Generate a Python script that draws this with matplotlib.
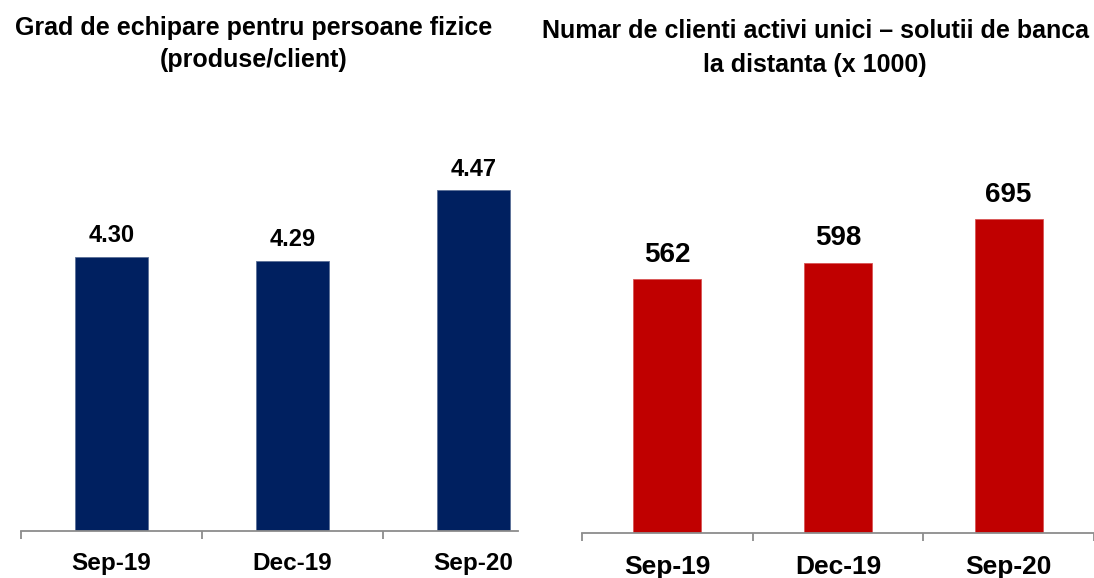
import matplotlib.pyplot as plt

W, H = 1094, 578

periods = ["Sep-19", "Dec-19", "Sep-20"]
grad_echipare = [4.30, 4.29, 4.47]
clienti_activi = [562, 598, 695]
grad_labels = ["4.30", "4.29", "4.47"]
clienti_labels = ["562", "598", "695"]

plt.rcParams['font.family'] = ['Liberation Sans', 'DejaVu Sans']
plt.rcParams['font.weight'] = 'bold'

fig = plt.figure(figsize=(W / 100, H / 100), dpi=100)


def px_axes(x0, x1, ytop, ybot):
    # pixel box (origin top-left) -> figure fraction
    return fig.add_axes([x0 / W, 1 - ybot / H, (x1 - x0) / W, (ybot - ytop) / H])


def style(ax, n):
    for s in ["top", "right", "left"]:
        ax.spines[s].set_visible(False)
    ax.spines["bottom"].set_color("#8c8c8c")
    ax.spines["bottom"].set_linewidth(1.3)
    ax.set_yticks([])
    ax.set_xticks(range(n))
    ax.tick_params(axis="x", which="major", length=0)
    ax.set_xticks([i - 0.5 for i in range(n + 1)], minor=True)
    ax.tick_params(axis="x", which="minor", length=6, width=1.3,
                   color="#8c8c8c", direction="out")


# left chart
ax1 = px_axes(21, 518, 150, 531)
ax1.bar(range(3), grad_echipare, width=0.40, color="#002060",
        edgecolor="#5a6f96", linewidth=0.6)
style(ax1, 3)
ax1.set_ylim(3.6, 4.573)
ax1.set_xlim(-0.5, -0.5 + 497 / 181)
ax1.set_xticklabels(periods, fontsize=17.5, fontweight="bold")
ax1.tick_params(axis="x", which="major", pad=15)
for i, v in enumerate(grad_echipare):
    ax1.annotate(grad_labels[i], (i, v), xytext=(0, 7), textcoords="offset points",
                 ha="center", va="bottom", fontsize=17, fontweight="bold")

# right chart
ax2 = px_axes(582, 1094, 150, 533)
ax2.bar(range(3), clienti_activi, width=0.40, color="#c00000",
        edgecolor="#d85555", linewidth=0.6)
style(ax2, 3)
ax2.set_ylim(0, 847)
ax2.set_xlim(-0.5, 2.5)
ax2.set_xticklabels(periods, fontsize=19, fontweight="bold")
ax2.tick_params(axis="x", which="major", pad=16)
for i, v in enumerate(clienti_activi):
    ax2.annotate(clienti_labels[i], (i, v), xytext=(0, 8), textcoords="offset points",
                 ha="center", va="bottom", fontsize=20, fontweight="bold")

fig.text(254 / W, 1 - 44 / H, "Grad de echipare pentru persoane fizice\n(produse/client)",
         ha="center", va="center", fontsize=18, fontweight="bold", linespacing=1.38)
fig.text(815 / W, 1 - 48 / H, "Numar de clienti activi unici \u2013 solutii de banca\nla distanta (x 1000)",
         ha="center", va="center", fontsize=18, fontweight="bold", linespacing=1.55)

fig.savefig("out.png", dpi=100)
